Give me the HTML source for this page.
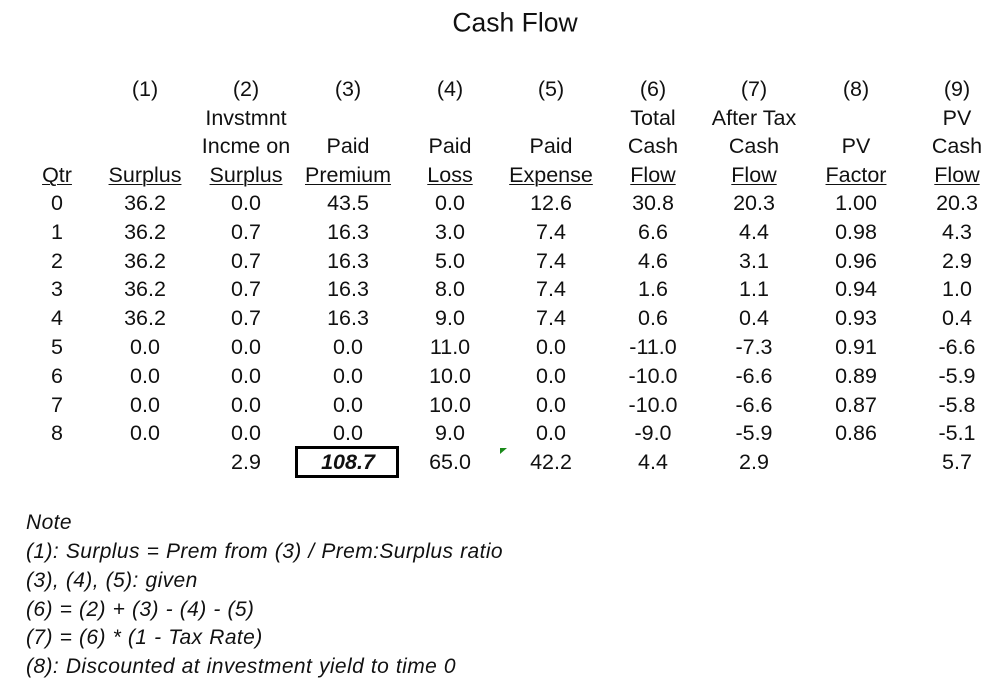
<!DOCTYPE html>
<html><head><meta charset="utf-8"><style>
body{margin:0;width:992px;height:678px;background:#fff;position:relative;overflow:hidden;font-family:"Liberation Sans",Arial,sans-serif;color:#111}
.t{position:absolute;font-size:21.5px;line-height:22px;white-space:nowrap;transform:translate(-50%,-50%)}
.u{text-decoration:underline;text-decoration-thickness:1px;text-underline-offset:2px}
.note{position:absolute;left:26px;font-size:21px;font-style:italic;line-height:22px;transform:translateY(-50%);letter-spacing:0.4px;word-spacing:0.5px}
</style></head><body>
<div style="position:absolute;left:515px;top:23px;transform:translate(-50%,-50%);font-size:26.5px">Cash Flow</div>
<div id="grid"></div>
<div style="position:absolute;left:295px;top:446px;width:98px;height:26px;border:3px solid #000"></div>
<div style="position:absolute;left:500px;top:448px;width:0;height:0;border-top:6px solid #1a8a1a;border-right:7px solid transparent"></div>
<div class="note" style="top:523px">Note</div>
<div class="note" style="top:552px">(1): Surplus = Prem from (3) / Prem:Surplus ratio</div>
<div class="note" style="top:581px">(3), (4), (5): given</div>
<div class="note" style="top:610px">(6) = (2) + (3) - (4) - (5)</div>
<div class="note" style="top:638px">(7) = (6) * (1 - Tax Rate)</div>
<div class="note" style="top:667px">(8): Discounted at investment yield to time 0</div>
<script>
const colX=[57,145,246,348,450,551,653,754,856,957];
const hdr=[
["","(1)","(2)","(3)","(4)","(5)","(6)","(7)","(8)","(9)"],
["","","Invstmnt","","","","Total","After Tax","","PV"],
["","","Incme on","Paid","Paid","Paid","Cash","Cash","PV","Cash"],
["Qtr","Surplus","Surplus","Premium","Loss","Expense","Flow","Flow","Factor","Flow"]];
const rows=[
["0","36.2","0.0","43.5","0.0","12.6","30.8","20.3","1.00","20.3"],
["1","36.2","0.7","16.3","3.0","7.4","6.6","4.4","0.98","4.3"],
["2","36.2","0.7","16.3","5.0","7.4","4.6","3.1","0.96","2.9"],
["3","36.2","0.7","16.3","8.0","7.4","1.6","1.1","0.94","1.0"],
["4","36.2","0.7","16.3","9.0","7.4","0.6","0.4","0.93","0.4"],
["5","0.0","0.0","0.0","11.0","0.0","-11.0","-7.3","0.91","-6.6"],
["6","0.0","0.0","0.0","10.0","0.0","-10.0","-6.6","0.89","-5.9"],
["7","0.0","0.0","0.0","10.0","0.0","-10.0","-6.6","0.87","-5.8"],
["8","0.0","0.0","0.0","9.0","0.0","-9.0","-5.9","0.86","-5.1"],
["","","2.9","108.7","65.0","42.2","4.4","2.9","","5.7"]];
const hdrY=[89,118,146,175], row0=203, dy=28.8;
const g=document.getElementById('grid');
function put(txt,x,y,cls,name){
 if(!txt)return;
 const d=document.createElement('div');d.className='t '+(cls||'');
 d.style.left=x+'px';d.style.top=y+'px';d.textContent=txt;
 
 
 g.appendChild(d);return d;}
hdr.forEach((r,i)=>r.forEach((t,j)=>put(t,colX[j],hdrY[i],i==3?'u':'','header-cell')));
rows.forEach((r,i)=>r.forEach((t,j)=>{
 const d=put(t,colX[j],row0+i*dy,'',i==rows.length-1?'total-cell':'data-cell');
 if(d&&i==rows.length-1&&j==3){d.style.fontWeight='bold';d.style.fontStyle='italic';}
}));
</script>
</body></html>
